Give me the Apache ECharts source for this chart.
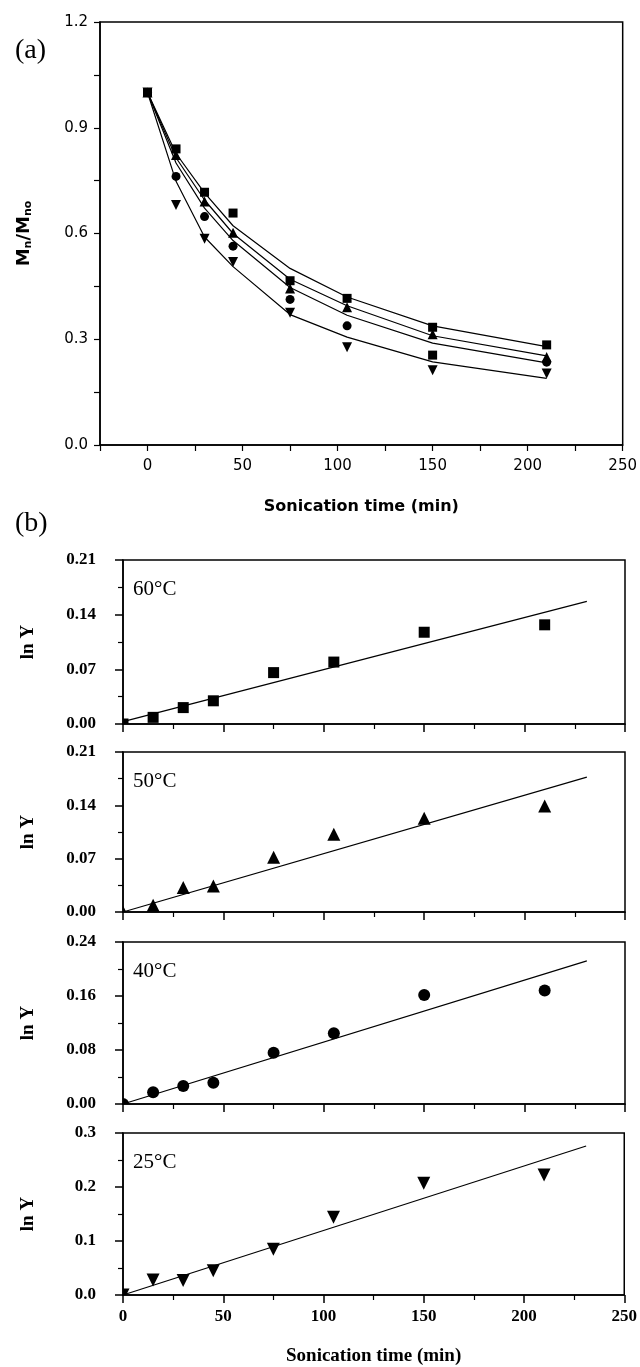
<!DOCTYPE html>
<html>
<head>
<meta charset="utf-8">
<script src="https://cdn.jsdelivr.net/npm/echarts@6/dist/echarts.min.js"></script>
<style>
html,body{margin:0;padding:0;background:#fff;}
#chart{width:640px;height:1367px;}
</style>
</head>
<body>
<div id="chart"></div>
<script>
// ---------- Panel (a): Mn/Mno vs sonication time ----------
const aTime = [0, 15, 30, 45, 75, 105, 150, 210];
const aSquare   = [1.0, 0.840, 0.717, 0.658, 0.466, 0.416, 0.334, 0.284];
const aTriangle = [1.0, 0.823, 0.691, 0.602, 0.444, 0.391, 0.314, 0.250];
const aCircle   = [1.0, 0.762, 0.648, 0.564, 0.413, 0.338, 0.255, 0.235];
const aDown     = [1.0, 0.681, 0.585, 0.519, 0.375, 0.277, 0.212, 0.203];
const aFitSquare   = [1.0, 0.827, 0.715, 0.622, 0.501, 0.420, 0.338, 0.279];
const aFitTriangle = [1.0, 0.815, 0.695, 0.600, 0.470, 0.395, 0.310, 0.253];
const aFitCircle   = [1.0, 0.800, 0.672, 0.580, 0.447, 0.368, 0.289, 0.233];
const aFitDown     = [1.0, 0.748, 0.590, 0.506, 0.370, 0.306, 0.236, 0.189];
const aXTicks = [0, 50, 100, 150, 200, 250];
const aYTicks = ['0.0', '0.3', '0.6', '0.9', '1.2'];

// ---------- Panel (b): ln Y vs sonication time ----------
const bTime = [0, 15, 30, 45, 75, 105, 150, 210];
const b60 = [0, 0.0085, 0.021, 0.0297, 0.0658, 0.0793, 0.1175, 0.127];
const b50 = [0, 0.009, 0.032, 0.034, 0.072, 0.102, 0.123, 0.139];
const b40 = [0, 0.0173, 0.0267, 0.0316, 0.076, 0.1047, 0.1615, 0.168];
const b25 = [0, 0.028, 0.027, 0.045, 0.0846, 0.1438, 0.2068, 0.222];
const bFitX = [0, 231];
const bFit60 = [0.003, 0.157];
const bFit50 = [0.0, 0.177];
const bFit40 = [0.0, 0.212];
const bFit25 = [0.0, 0.276];
const bLabels = ['60°C', '50°C', '40°C', '25°C'];
const bYMax = [0.21, 0.21, 0.24, 0.3];
const bYStep = [0.07, 0.07, 0.08, 0.1];
const bYDecimals = [2, 2, 2, 1];

const pair = (xs, ys) => xs.map((x, i) => [x, ys[i]]);
const isMult = (v, s) => Math.abs(v / s - Math.round(v / s)) < 1e-6;

const sansFont = 'DejaVu Sans';
const serifFont = 'Liberation Serif';
const black = '#000';

const chart = echarts.init(document.getElementById('chart'), null, {renderer: 'canvas'});

const gridsB = [
  {top: 560, height: 164},
  {top: 752, height: 160},
  {top: 942, height: 162},
  {top: 1133, height: 162}
];

const grid = [{left: 100, top: 22, width: 523, height: 423, show: true, borderColor: black, borderWidth: 1.5, backgroundColor: 'transparent'}]
  .concat(gridsB.map(g => ({left: 123, top: g.top, width: 502, height: g.height, show: true, borderColor: black, borderWidth: 1.5, backgroundColor: 'transparent'})));

const xAxis = [{
  gridIndex: 0, type: 'value', min: -25, max: 250, interval: 25,
  axisLine: {onZero: false, lineStyle: {color: black, width: 1.5}},
  axisTick: {length: 6, lineStyle: {color: black, width: 1.2}},
  axisLabel: {margin: 14, color: black, fontFamily: sansFont, fontSize: 15,
    formatter: v => aXTicks.indexOf(v) >= 0 ? String(v) : ''},
  splitLine: {show: false},
  name: 'Sonication time (min)', nameLocation: 'middle', nameGap: 54,
  nameTextStyle: {color: black, fontFamily: sansFont, fontSize: 16, fontWeight: 'bold'}
}];
const yAxis = [{
  gridIndex: 0, type: 'value', min: 0, max: 1.2, interval: 0.15,
  axisLine: {onZero: false, lineStyle: {color: black, width: 1.5}},
  axisTick: {length: 6, lineStyle: {color: black, width: 1.2}},
  axisLabel: {margin: 12, color: black, fontFamily: sansFont, fontSize: 15,
    formatter: v => isMult(v, 0.3) ? aYTicks[Math.round(v / 0.3)] : ''},
  splitLine: {show: false},
  name: '{m|M}{s|n}{m|/M}{s|no}', nameLocation: 'middle', nameGap: 66, nameRotate: 90,
  nameTextStyle: {color: black, fontFamily: sansFont, fontSize: 18, fontWeight: 'bold',
    rich: {
      m: {fontFamily: sansFont, fontSize: 18, fontWeight: 'bold', color: black},
      s: {fontFamily: sansFont, fontSize: 11, fontWeight: 'bold', color: black, verticalAlign: 'bottom', padding: [9, 0, 0, 0]}
    }}
}];

gridsB.forEach((g, k) => {
  const gi = k + 1;
  const last = k === gridsB.length - 1;
  xAxis.push({
    gridIndex: gi, type: 'value', min: 0, max: 250, interval: 50,
    axisLine: {onZero: false, lineStyle: {color: black, width: 1.5}},
    axisTick: {length: 8, lineStyle: {color: black, width: 1.5}},
    minorTick: {show: true, splitNumber: 2, length: 5, lineStyle: {color: black, width: 1.2}},
    axisLabel: {show: last, margin: 13, color: black, fontFamily: serifFont, fontSize: 17, fontWeight: 'bold'},
    splitLine: {show: false},
    name: last ? 'Sonication time (min)' : '', nameLocation: 'middle', nameGap: 52,
    nameTextStyle: {color: black, fontFamily: serifFont, fontSize: 19, fontWeight: 'bold'}
  });
  yAxis.push({
    gridIndex: gi, type: 'value', min: 0, max: bYMax[k], interval: bYStep[k],
    axisLine: {onZero: false, lineStyle: {color: black, width: 1.5}},
    axisTick: {length: 8, lineStyle: {color: black, width: 1.5}},
    minorTick: {show: true, splitNumber: 2, length: 5, lineStyle: {color: black, width: 1.2}},
    axisLabel: {margin: 27, color: black, fontFamily: serifFont, fontSize: 17, fontWeight: 'bold',
      formatter: v => v.toFixed(bYDecimals[k])},
    splitLine: {show: false},
    name: 'ln Y', nameLocation: 'middle', nameGap: 85, nameRotate: 90,
    nameTextStyle: {color: black, fontFamily: serifFont, fontSize: 19, fontWeight: 'bold'}
  });
});

const series = [];
// panel (a) fitted curves
[aFitSquare, aFitTriangle, aFitCircle, aFitDown].forEach(f => {
  series.push({type: 'line', xAxisIndex: 0, yAxisIndex: 0, data: pair(aTime, f), showSymbol: false,
    lineStyle: {color: black, width: 1.2}, silent: true, animation: false, z: 2});
});
// panel (a) measured points
const aMarks = [
  {d: aSquare, symbol: 'rect', size: 9, rot: 0},
  {d: aTriangle, symbol: 'triangle', size: 10, rot: 0},
  {d: aCircle, symbol: 'circle', size: 9, rot: 0},
  {d: aDown, symbol: 'triangle', size: 10, rot: 180}
];
aMarks.forEach((m, si) => {
  series.push({type: 'scatter', xAxisIndex: 0, yAxisIndex: 0,
    data: pair(aTime, m.d).map(p => (si === 2 && p[0] === 150) ? {value: p, symbol: 'rect'} : p),
    symbol: m.symbol, symbolSize: m.size, symbolRotate: m.rot,
    itemStyle: {color: black, opacity: 1}, animation: false, z: 3});
});

// marker shape builder for custom series (clipped to the plot area like the original)
function markerShape(kind, p, s) {
  const h = s / 2;
  const style = {fill: black};
  if (kind === 'rect') return {type: 'rect', shape: {x: p[0] - h, y: p[1] - h, width: s, height: s}, style};
  if (kind === 'circle') return {type: 'circle', shape: {cx: p[0], cy: p[1], r: h}, style};
  if (kind === 'up') return {type: 'polygon', shape: {points: [[p[0], p[1] - h], [p[0] + h, p[1] + h], [p[0] - h, p[1] + h]]}, style};
  return {type: 'polygon', shape: {points: [[p[0] - h, p[1] - h], [p[0] + h, p[1] - h], [p[0], p[1] + h]]}, style};
}

// panel (b)
const bSets = [
  {d: b60, f: bFit60, kind: 'rect', size: 11},
  {d: b50, f: bFit50, kind: 'up', size: 13},
  {d: b40, f: bFit40, kind: 'circle', size: 12},
  {d: b25, f: bFit25, kind: 'down', size: 13}
];
bSets.forEach((s, k) => {
  const gi = k + 1;
  series.push({type: 'line', xAxisIndex: gi, yAxisIndex: gi, data: pair(bFitX, s.f), showSymbol: false,
    lineStyle: {color: black, width: 1.2}, silent: true, animation: false, z: 2});
  series.push({type: 'custom', xAxisIndex: gi, yAxisIndex: gi, data: pair(bTime, s.d),
    encode: {x: 0, y: 1}, clip: true, animation: false, z: 3,
    renderItem: (params, api) => markerShape(s.kind, api.coord([api.value(0), api.value(1)]), s.size)});
});

const graphic = [
  {type: 'text', left: 15, top: 37, style: {text: '(a)', font: '28px "Liberation Serif"', fill: black}},
  {type: 'text', left: 15, top: 510, style: {text: '(b)', font: '28px "Liberation Serif"', fill: black}}
];
gridsB.forEach((g, k) => {
  graphic.push({type: 'text', left: 133, top: g.top + 19,
    style: {text: bLabels[k], font: '21px "Liberation Serif"', fill: black}});
});

chart.setOption({
  animation: false,
  backgroundColor: '#fff',
  grid: grid,
  xAxis: xAxis,
  yAxis: yAxis,
  series: series,
  graphic: graphic
});
</script>
</body>
</html>
